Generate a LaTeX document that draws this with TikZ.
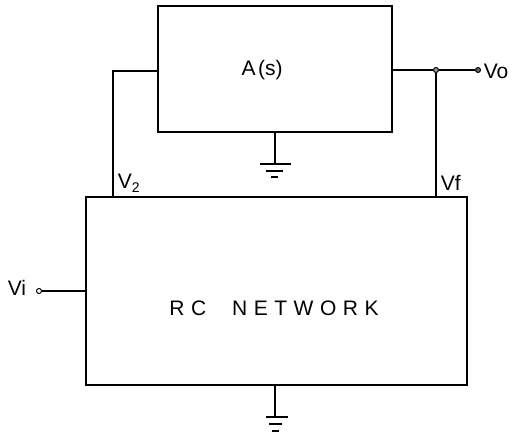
\documentclass[tikz,border=0pt]{standalone}
\usepackage{fontspec}
\setmainfont{Liberation Sans}
\newfontfamily\spaced[LetterSpace=31]{Liberation Sans}
\begin{document}
\begin{tikzpicture}[x=1pt,y=-1pt,line width=1.6pt,
  blk/.style={draw,rectangle,inner sep=0pt},
  term/.style={circle,draw,fill=white,inner sep=0pt,minimum size=4.5pt,line width=1pt},
  lbl/.style={font=\fontsize{21}{21}\selectfont,inner sep=0pt}]
\useasboundingbox (0,0) rectangle (512,436);
% blocks
\node[blk,minimum width=234pt,minimum height=126pt] (A) at (275,69) {};
\node[lbl] at (262,70) {A\hspace{2.5pt}(s)};
\node[blk,minimum width=381pt,minimum height=188pt] (RC) at (276.5,291) {};
\node[lbl,font=\spaced\fontsize{21}{21}\selectfont] at (274,308) {RC\hspace{26pt}NETWORK};
% coordinates
\coordinate (Ain) at (158,71);
\coordinate (Aout) at (392,70);
\coordinate (lc) at (113,71);
\coordinate (v2) at (113,197);
\coordinate (vf) at (436,197);
\node[term,minimum size=5pt,fill=black!40] (J) at (436,70) {};
\node[term,minimum size=5pt,fill=black!60] (Vo) at (478,70) {};
\node[term,minimum size=5pt] (Vi) at (39,291) {};
\coordinate (RCin) at (86,291);
% wires
\draw (Ain) -- (lc) -- (v2);
\draw (Aout) -- (J) -- (Vo);
\draw (J) -- (vf);
\draw (Vi) -- (RCin);
% labels
\node[lbl,anchor=west] at (483,71) {Vo};
\node[lbl,anchor=west] at (7,288) {Vi};
\node[lbl,anchor=south west] at (117,193) {V\raisebox{-4pt}{\fontsize{14}{14}\selectfont 2}};
\node[lbl,anchor=south west] at (440,191) {Vf};
% grounds
\draw (275,132) -- (275,164);
\draw (260,164) -- (291,164);
\draw (266,171) -- (283,171);
\draw (271,177) -- (278,177);
\draw (275,385) -- (275,417);
\draw (266,417) -- (288,417);
\draw (269,424) -- (282,424);
\draw (272,431) -- (279,431);
\end{tikzpicture}
\end{document}
